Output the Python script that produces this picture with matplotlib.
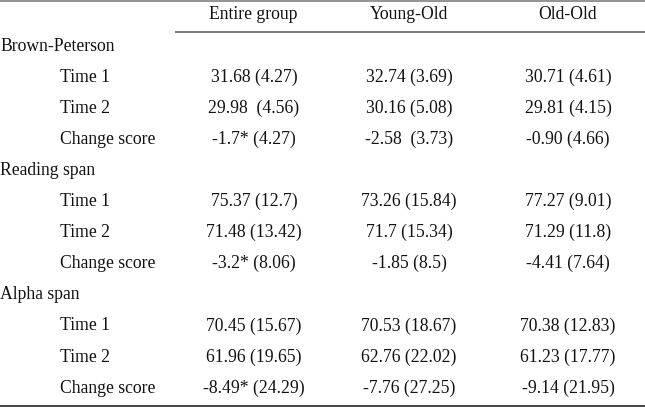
import matplotlib
matplotlib.use("Agg")
import matplotlib.pyplot as plt

columns = ["Entire group", "Young-Old", "Old-Old"]
measures = ["Brown-Peterson", "Reading span", "Alpha span"]
sub_rows = ["Time 1", "Time 2", "Change score"]

brown_peterson = [
    ["31.68 (4.27)", "32.74 (3.69)", "30.71 (4.61)"],
    ["29.98  (4.56)", "30.16 (5.08)", "29.81 (4.15)"],
    ["-1.7* (4.27)", "-2.58  (3.73)", "-0.90 (4.66)"],
]
reading_span = [
    ["75.37 (12.7)", "73.26 (15.84)", "77.27 (9.01)"],
    ["71.48 (13.42)", "71.7 (15.34)", "71.29 (11.8)"],
    ["-3.2* (8.06)", "-1.85 (8.5)", "-4.41 (7.64)"],
]
alpha_span = [
    ["70.45 (15.67)", "70.53 (18.67)", "70.38 (12.83)"],
    ["61.96 (19.65)", "62.76 (22.02)", "61.23 (17.77)"],
    ["-8.49* (24.29)", "-7.76 (27.25)", "-9.14 (21.95)"],
]
blocks = [brown_peterson, reading_span, alpha_span]

W, H = 645, 407
fig = plt.figure(figsize=(W / 100, H / 100), dpi=100)
ax = fig.add_axes([0, 0, 1, 1])
ax.set_xlim(0, W)
ax.set_ylim(H, 0)
ax.axis("off")

font = dict(family="Liberation Serif", fontsize=12.7, color="#111111")

col_x = [254, 409, 568]
header_x = [253, 409, 568]
label_x = 0.5
sub_x = 60
base0 = 51
step = 31.05

# rules
ax.plot([0, W], [0.8, 0.8], color="#8a8a8a", lw=1.3, solid_capstyle="butt")
ax.plot([175, W], [32.3, 32.3], color="#707070", lw=1.3, solid_capstyle="butt")
ax.plot([0, W], [405.7, 405.7], color="#444444", lw=1.4, solid_capstyle="butt")

for x, c in zip(header_x, columns):
    ax.text(x, 19, c, ha="center", va="baseline", **font)

row = 0
for name, block in zip(measures, blocks):
    ax.text(label_x, base0 + step * row, name, ha="left", va="baseline", **font)
    row += 1
    for sub, vals in zip(sub_rows, block):
        y = base0 + step * row
        ax.text(sub_x, y, sub, ha="left", va="baseline", **font)
        for x, v in zip(col_x, vals):
            ax.text(x, y, v, ha="center", va="baseline", **font)
        row += 1

fig.savefig("out.png", dpi=100)
